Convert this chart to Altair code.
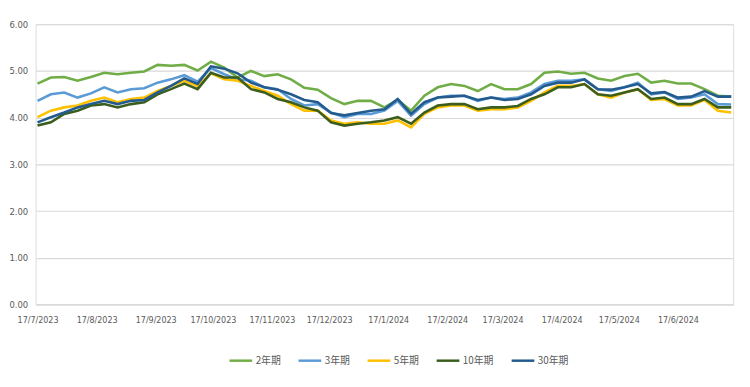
import altair as alt
import pandas as pd

dates = pd.date_range("2023-07-17", "2024-07-15", freq="7D").strftime("%Y-%m-%d").tolist()

y2 = [4.73, 4.86, 4.87, 4.79, 4.87, 4.96, 4.93, 4.96, 4.99, 5.13, 5.11, 5.13, 5.01, 5.20, 5.07, 4.86, 5.00, 4.89, 4.93, 4.82, 4.64, 4.60, 4.42, 4.29, 4.36, 4.36, 4.22, 4.38, 4.15, 4.47, 4.65, 4.72, 4.68, 4.57, 4.72, 4.61, 4.61, 4.72, 4.96, 4.99, 4.94, 4.96, 4.84, 4.79, 4.89, 4.94, 4.75, 4.79, 4.73, 4.73, 4.61, 4.47, 4.45]
y3 = [4.36, 4.50, 4.54, 4.43, 4.52, 4.65, 4.54, 4.61, 4.63, 4.75, 4.82, 4.91, 4.77, 5.06, 4.93, 4.82, 4.79, 4.65, 4.61, 4.40, 4.26, 4.29, 4.11, 4.01, 4.08, 4.08, 4.15, 4.36, 4.04, 4.29, 4.43, 4.47, 4.47, 4.36, 4.43, 4.40, 4.43, 4.54, 4.72, 4.79, 4.79, 4.82, 4.61, 4.57, 4.65, 4.75, 4.50, 4.54, 4.40, 4.43, 4.50, 4.29, 4.28]
y5 = [4.01, 4.15, 4.22, 4.26, 4.36, 4.43, 4.33, 4.40, 4.43, 4.57, 4.68, 4.79, 4.68, 4.95, 4.82, 4.79, 4.68, 4.57, 4.47, 4.29, 4.15, 4.15, 3.94, 3.87, 3.90, 3.87, 3.87, 3.94, 3.79, 4.08, 4.22, 4.26, 4.26, 4.15, 4.18, 4.18, 4.22, 4.36, 4.54, 4.68, 4.68, 4.72, 4.50, 4.43, 4.54, 4.61, 4.38, 4.40, 4.26, 4.26, 4.38, 4.15, 4.11]
y10 = [3.83, 3.90, 4.08, 4.15, 4.26, 4.29, 4.22, 4.29, 4.33, 4.50, 4.61, 4.73, 4.61, 4.96, 4.86, 4.86, 4.61, 4.54, 4.40, 4.33, 4.22, 4.15, 3.90, 3.83, 3.87, 3.90, 3.94, 4.01, 3.87, 4.11, 4.26, 4.29, 4.29, 4.18, 4.22, 4.22, 4.25, 4.40, 4.50, 4.65, 4.65, 4.72, 4.50, 4.47, 4.54, 4.61, 4.40, 4.43, 4.29, 4.29, 4.40, 4.22, 4.22]
y30 = [3.90, 4.01, 4.11, 4.22, 4.29, 4.36, 4.29, 4.36, 4.38, 4.54, 4.68, 4.84, 4.72, 5.10, 5.05, 4.95, 4.75, 4.65, 4.60, 4.50, 4.38, 4.33, 4.10, 4.05, 4.10, 4.15, 4.18, 4.40, 4.08, 4.33, 4.43, 4.45, 4.47, 4.38, 4.43, 4.38, 4.40, 4.50, 4.68, 4.75, 4.75, 4.82, 4.61, 4.60, 4.65, 4.72, 4.52, 4.55, 4.43, 4.45, 4.57, 4.45, 4.45]

series = ["2年期", "3年期", "5年期", "10年期", "30年期"]
colors = ["#70AD47", "#5B9BD5", "#FFC000", "#3B5E1F", "#245B8F"]
tick_dates = ["2023-07-17", "2023-08-17", "2023-09-17", "2023-10-17", "2023-11-17", "2023-12-17",
              "2024-01-17", "2024-02-17", "2024-03-17", "2024-04-17", "2024-05-17", "2024-06-17"]

rows = []
for name, vals in zip(series, [y2, y3, y5, y10, y30]):
    for d, v in zip(dates, vals):
        rows.append({"date": d, "series": name, "value": v})
df = pd.DataFrame(rows)

tick_values = [alt.DateTime(year=int(t[:4]), month=int(t[5:7]), date=int(t[8:])) for t in tick_dates]

narrow = "Liberation Sans Narrow, DejaVu Sans Condensed, sans-serif"

chart = alt.Chart(df).mark_line(strokeWidth=2.6, interpolate="linear").encode(
    x=alt.X("date:T",
            scale=alt.Scale(domain=[alt.DateTime(year=2023, month=7, date=16),
                                    alt.DateTime(year=2024, month=7, date=16)]),
            axis=alt.Axis(values=tick_values, format="%-d/%-m/%Y", title=None, grid=False,
                          ticks=False, labelPadding=11, labelFontSize=9, labelFont=narrow,
                          labelColor="#595959", domainColor="#D9D9D9", labelOverlap=False)),
    y=alt.Y("value:Q",
            scale=alt.Scale(domain=[0, 6], nice=False),
            axis=alt.Axis(values=[0, 1, 2, 3, 4, 5, 6], format=".2f", title=None, ticks=False,
                          domain=False, labelPadding=8, labelFontSize=9.5, labelFont=narrow,
                          labelColor="#595959", gridColor="#D9D9D9", gridWidth=1.2)),
    color=alt.Color("series:N",
                    scale=alt.Scale(domain=series, range=colors),
                    legend=alt.Legend(title=None, orient="none", direction="horizontal",
                                      legendX=195, legendY=328, symbolType="stroke",
                                      symbolSize=529, symbolStrokeWidth=2.5, labelOffset=2,
                                      columnPadding=12, labelFontSize=10,
                                      labelFont="Noto Sans CJK SC", labelColor="#595959")),
).properties(
    width=707, height=284,
    padding={"left": 0, "top": 9, "right": 5, "bottom": 5},
).configure_view(stroke=None).configure(background="white")

chart.save("out.html", embed_options={"renderer": "svg", "actions": False})
